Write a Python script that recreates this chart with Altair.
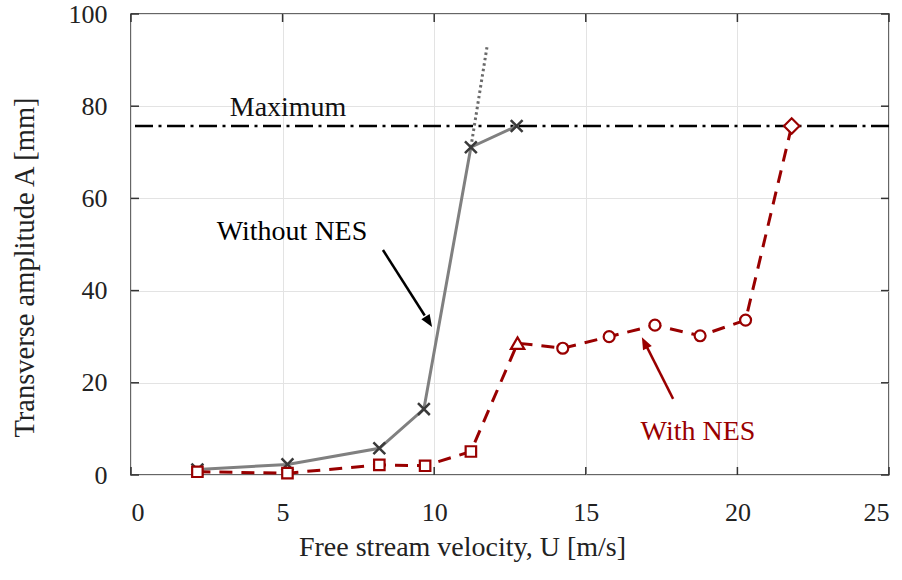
import math
import altair as alt
import pandas as pd

# ---------------- data ----------------
u_without = [2.19, 5.16, 8.19, 9.66, 11.21, 12.72]
a_without = [1.2, 2.3, 5.8, 14.3, 71.1, 75.7]

u_extrap = [11.21, 11.74]
a_extrap = [71.1, 92.8]

u_with = [2.19, 5.16, 8.19, 9.70, 11.21, 12.75, 14.24, 15.77, 17.28, 18.77, 20.27, 21.79]
a_with = [0.7, 0.4, 2.2, 2.0, 5.1, 28.6, 27.5, 30.0, 32.5, 30.2, 33.6, 75.7]
regime_with = ["square"] * 5 + ["triangle-up"] + ["circle"] * 5 + ["diamond"]

a_max = 75.7
max_label = ["Maximum"]
max_label_u = [5.18]
max_label_a = [79.6]

ann_text = ["Without NES", "With NES"]
ann_u = [5.31, 18.70]
ann_a = [52.7, 9.3]
arrow_start_u = [8.31, 17.88]
arrow_start_a = [48.8, 16.5]
arrow_tip_u = [9.93, 16.85]
arrow_tip_a = [32.1, 29.9]

x_ticks = [0, 5, 10, 15, 20, 25]
y_ticks = [0, 20, 40, 60, 80, 100]

# ---------------- styling ----------------
W, H = 758, 461
X_DOM, Y_DOM = [0, 25], [0, 100]
PX_U = W / (X_DOM[1] - X_DOM[0])
PX_A = H / (Y_DOM[1] - Y_DOM[0])
RED = "#990000"
GRAY = "#808080"
FONT = "Liberation Serif"

xs = alt.Scale(domain=X_DOM, nice=False, zero=False)
ys = alt.Scale(domain=Y_DOM, nice=False, zero=False)
xaxis = alt.Axis(values=x_ticks, title="Free stream velocity, U [m/s]", grid=True,
                 ticks=False, domain=False, labelPadding=24,
                 titleX=331, titleY=80, titleBaseline="alphabetic",
                 labelFontSize=26, titleFontSize=28)
yaxis = alt.Axis(values=y_ticks, title="Transverse amplitude A [mm]", grid=True,
                 ticks=False, domain=False, labelPadding=24,
                 titleX=-98, titleY=253, titleBaseline="alphabetic",
                 labelFontSize=26, titleFontSize=28.5)


def X(f):
    return alt.X(f"{f}:Q", scale=xs, axis=xaxis)


def Y(f):
    return alt.Y(f"{f}:Q", scale=ys, axis=yaxis)


def X2(f):
    return alt.X2(f"{f}:Q")


def Y2(f):
    return alt.Y2(f"{f}:Q")


df_without = pd.DataFrame({"u": u_without, "a": a_without})
df_extrap = pd.DataFrame({"u": u_extrap, "a": a_extrap})
df_with = pd.DataFrame({"u": u_with, "a": a_with, "m": regime_with})

# inward tick marks on all four sides (data units)
tick_len_u = 8 / PX_U
tick_len_a = 8 / PX_A
tick_rows = []
for t in x_ticks:
    tick_rows.append({"u": t, "u2": t, "a": Y_DOM[0], "a2": Y_DOM[0] + tick_len_a})
    tick_rows.append({"u": t, "u2": t, "a": Y_DOM[1], "a2": Y_DOM[1] - tick_len_a})
for t in y_ticks:
    tick_rows.append({"u": X_DOM[0], "u2": X_DOM[0] + tick_len_u, "a": t, "a2": t})
    tick_rows.append({"u": X_DOM[1], "u2": X_DOM[1] - tick_len_u, "a": t, "a2": t})
df_ticks = pd.DataFrame(tick_rows)

ticks = alt.Chart(df_ticks).mark_rule(color="#333333", strokeWidth=1.5).encode(
    x=X("u"), x2=X2("u2"), y=Y("a"), y2=Y2("a2"))

max_rule = alt.Chart(pd.DataFrame({"a": [a_max]})).mark_rule(
    color="black", strokeWidth=2.6, strokeDash=[18, 5.5, 3, 5.5]).encode(y=Y("a"))

max_text = alt.Chart(pd.DataFrame({"u": max_label_u, "a": max_label_a, "t": max_label})).mark_text(
    font=FONT, fontSize=28, color="#111111", align="center", baseline="middle").encode(
    x=X("u"), y=Y("a"), text="t:N")

line_without = alt.Chart(df_without).mark_line(color=GRAY, strokeWidth=3).encode(
    x=X("u"), y=Y("a"))
line_extrap = alt.Chart(df_extrap).mark_line(color="#6a6a6a", strokeWidth=3, strokeDash=[2.5, 3]).encode(
    x=X("u"), y=Y("a"))
pts_without = alt.Chart(df_without).mark_point(
    shape="M-1,-1L1,1M-1,1L1,-1", size=140, filled=False, color="#3a3a3a",
    strokeWidth=2.5, opacity=1).encode(x=X("u"), y=Y("a"))

line_with = alt.Chart(df_with).mark_line(color=RED, strokeWidth=3, strokeDash=[13, 9]).encode(
    x=X("u"), y=Y("a"))

marker_size = {"square": 110, "triangle-up": 180, "circle": 120, "diamond": 240}
pts_with = [
    alt.Chart(df_with).transform_filter(alt.datum.m == shp).mark_point(
        shape=shp, size=sz, filled=True, fill="white", stroke=RED, strokeWidth=2.2,
        opacity=1).encode(x=X("u"), y=Y("a"))
    for shp, sz in marker_size.items()
]

# annotations with arrows
ann_colors = ["black", RED]
ann_layers = []
for i in range(len(ann_text)):
    su, sa, tu, ta = arrow_start_u[i], arrow_start_a[i], arrow_tip_u[i], arrow_tip_a[i]
    dx = (tu - su) * PX_U
    dy = -(ta - sa) * PX_A
    ang = math.degrees(math.atan2(dx, -dy)) % 360
    eu = su + (tu - su) * 0.85
    ea = sa + (ta - sa) * 0.85
    seg = pd.DataFrame({"u": [su, eu], "a": [sa, ea]})
    ann_layers.append(alt.Chart(seg).mark_line(color=ann_colors[i], strokeWidth=2.5).encode(
        x=X("u"), y=Y("a")))
    ann_layers.append(alt.Chart(pd.DataFrame({"u": [tu], "a": [ta]})).mark_point(
        shape="M0,0L-0.4,1L0.4,1Z", size=600, filled=True, color=ann_colors[i],
        opacity=1, angle=ang).encode(x=X("u"), y=Y("a")))
    ann_layers.append(alt.Chart(pd.DataFrame({"u": [ann_u[i]], "a": [ann_a[i]], "t": [ann_text[i]]})).mark_text(
        font=FONT, fontSize=28, color=ann_colors[i], align="center", baseline="middle").encode(
        x=X("u"), y=Y("a"), text="t:N"))

chart = alt.layer(
    ticks, max_rule, line_extrap, line_without, pts_without, line_with, *pts_with,
    max_text, *ann_layers
).properties(
    width=W, height=H,
    autosize=alt.AutoSizeParams(type="none"),
    padding={"left": 131, "top": 14, "right": 13, "bottom": 105},
    background="white",
).configure_view(
    stroke="#333333", strokeWidth=1.5
).configure_axis(
    labelFont=FONT, titleFont=FONT, labelColor="#222222", titleColor="#222222",
    titleFontWeight="normal", gridColor="#e3e3e3", gridWidth=1,
)

chart.save("out.html", embed_options={"renderer": "svg", "actions": False})
